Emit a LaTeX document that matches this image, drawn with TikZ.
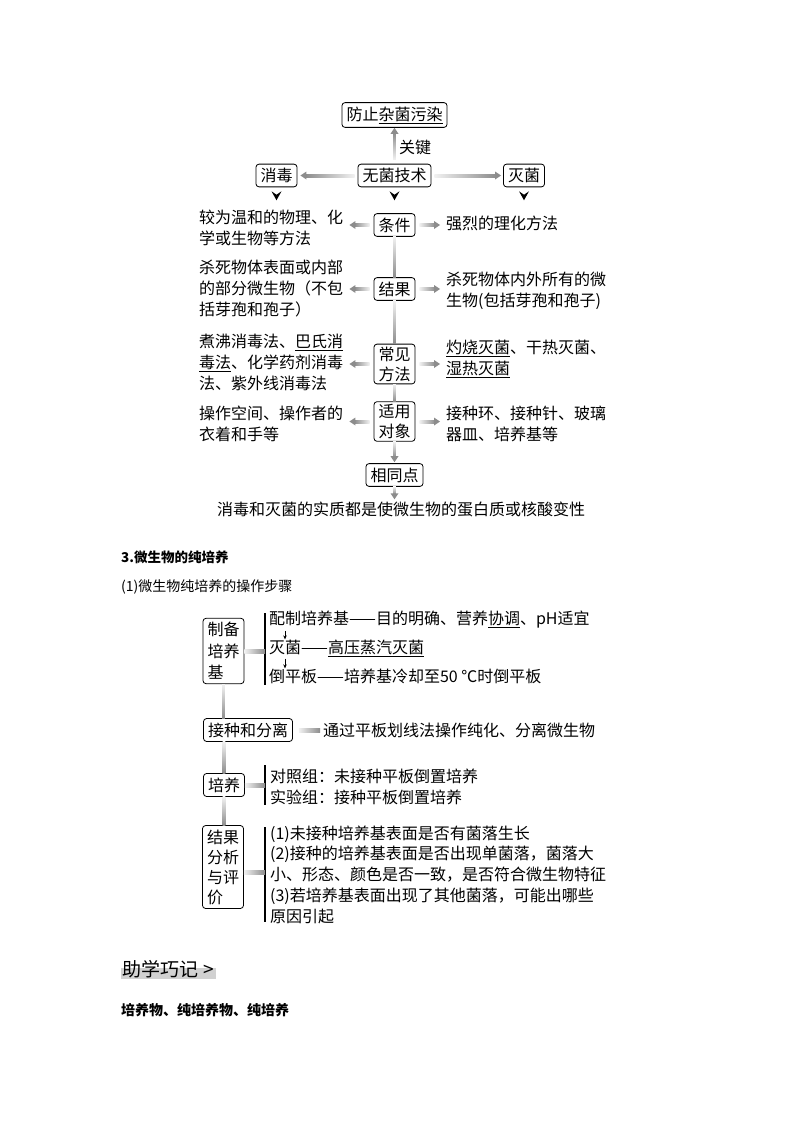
\documentclass[tikz,border=0pt]{standalone}
\usepackage{fontspec}
\setmainfont{Noto Sans CJK SC}
\usetikzlibrary{arrows.meta,calc}
\newcommand\fA{\fontsize{16}{21}\selectfont}
\newcommand\fB{\fontsize{16}{20.75}\selectfont}
\newcommand\fBox{\fontsize{16}{21.5}\selectfont}
\colorlet{gcol}{black!45}
\newcommand\arrL[2]{\shade[left color=gcol,right color=gcol!12] ($(#2)+(5,-1.5)$) rectangle ($(#1)+(0,1.5)$);\fill[gcol] (#2) -- ($(#2)+(6,-4)$) -- ($(#2)+(6,4)$) -- cycle;}
\newcommand\arrR[2]{\shade[left color=gcol!12,right color=gcol] ($(#1)+(0,-1.5)$) rectangle ($(#2)+(-5,1.5)$);\fill[gcol] (#2) -- ($(#2)+(-6,-4)$) -- ($(#2)+(-6,4)$) -- cycle;}
\newcommand\arrD[2]{\shade[top color=gcol!12,bottom color=gcol] ($(#1)+(-1.4,0)$) rectangle ($(#2)+(1.4,-5)$);\fill[gcol] (#2) -- ($(#2)+(-4,-6)$) -- ($(#2)+(4,-6)$) -- cycle;}
\newcommand\arrU[2]{\shade[top color=gcol,bottom color=gcol!12] ($(#2)+(-1.4,5)$) rectangle ($(#1)+(1.4,0)$);\fill[gcol] (#2) -- ($(#2)+(-4,6)$) -- ($(#2)+(4,6)$) -- cycle;}
\newcommand\lnD[3][1.4]{\shade[top color=gcol!12,bottom color=gcol] ($(#2)+(-#1,0)$) rectangle ($(#3)+(#1,0)$);}
\newcommand\lnR[3][2]{\shade[left color=gcol!12,right color=gcol] ($(#2)+(0,-#1)$) rectangle ($(#3)+(0,#1)$);}
\begin{document}
\begin{tikzpicture}[x=1pt,y=-1pt,
  box/.style={draw,line width=0.8pt,rounded corners=3pt,inner xsep=4.5pt,inner ysep=4pt,font=\fA,align=center},
  box2/.style={box,inner ysep=2.5pt,font=\fontsize{16}{20}\selectfont},
  lt/.style={inner xsep=6pt,inner ysep=0pt,font=\fA,align=left,anchor=west},
  pl/.style={inner sep=0pt,font=\fA,anchor=west},
  bline/.style={line width=1.1pt}]
\useasboundingbox (0,0) rectangle (800,1132);

% ---------- top section ----------
\node[box] (top) at (394.5,115) {防止\underline{杂菌污染}};
\node[box] (wj) at (394.5,175.5) {无菌技术};
\node[box] (xd) at (276.5,175.5) {消毒};
\node[box] (mj) at (524,175.5) {灭菌};
\node[font=\fA,inner sep=0pt] (gj) at (415,147) {关键};

\coordinate (c1) at ($(wj.north)+(0,-4)$);
\arrU{c1}{top.south}
\coordinate (c3) at ($(wj.west)+(-3,0)$);
\coordinate (c4) at ($(xd.east)+(3,0)$);
\arrL{c3}{c4}
\coordinate (c5) at ($(wj.east)+(3,0)$);
\coordinate (c6) at ($(mj.west)+(-2,0)$);
\arrR{c5}{c6}
\foreach \nn in {xd,wj,mj}
  \fill ($(\nn.south)+(-5,4)$) -- ($(\nn.south)+(0,13)$) -- ($(\nn.south)+(5,4)$) -- ($(\nn.south)+(0,7.5)$) -- cycle;

\node[box] (tj) at (394.5,225) {条件};
\node[lt] (tjL) at (193,227.5) {较为温和的物理、化\\学或生物等方法};
\node[lt] (tjR) at (440,223) {强烈的理化方法};
\node[box] (jg) at (394.5,289) {结果};
\node[lt] (jgL) at (193,289) {杀死物体表面或内部\\的部分微生物（不包\\括芽孢和孢子）};
\node[lt] (jgR) at (440,290.5) {杀死物体内外所有的微\\生物(包括芽孢和孢子)};
\node[box2] (cj) at (394.5,364) {常见\\方法};
\node[lt] (cjL) at (193,362) {煮沸消毒法、\underline{巴氏消}\\\underline{毒法}、化学药剂消毒\\法、紫外线消毒法};
\node[lt] (cjR) at (440,359) {\underline{灼烧灭菌}、干热灭菌、\\\underline{湿热灭菌}};
\node[box2] (sy) at (394.5,421.5) {适用\\对象};
\node[lt] (syL) at (193,424) {操作空间、操作者的\\衣着和手等};
\node[lt] (syR) at (440,424) {接种环、接种针、玻璃\\器皿、培养基等};
\node[box] (xt) at (394.5,475) {相同点};
\node[font=\fA,inner sep=0pt] (sum) at (401,509) {消毒和灭菌的实质都是使微生物的蛋白质或核酸变性};

\foreach \rr in {tj,jg,cj,sy}{
  \coordinate (\rr-a) at ($(\rr.west)+(-4,0)$);
  \coordinate (\rr-b) at (\rr.west -| \rr L.east);
  \arrL{\rr-a}{\rr-b}
  \coordinate (\rr-c) at ($(\rr.east)+(4,0)$);
  \coordinate (\rr-d) at (\rr.east -| \rr R.west);
  \arrR{\rr-c}{\rr-d}
}
\lnD{tj.south}{jg.north}
\lnD{jg.south}{cj.north}
\lnD{cj.south}{sy.north}
\coordinate (d1) at ($(xt.north)+(0,-1)$);
\arrD{sy.south}{d1}
\coordinate (d2) at ($(sum.north)+(-6.5,-2)$);
\coordinate (d3) at (xt.south);
\arrD{d3}{d2 -| d3}

% ---------- section 3 ----------
\node[pl,font=\fontsize{13.5}{16}\selectfont\bfseries] (h1) at (121,557) {3.微生物的纯培养};
\node[pl,font=\fontsize{14}{16}\selectfont] (h2) at (121,587) {(1)微生物纯培养的操作步骤};

\node[box,align=left,font=\fBox] (zb) at (223.5,651) {制备\\培养\\基};
\coordinate (b1t) at (265,613);
\coordinate (b1b) at (265,685);
\draw[bline] (b1t) -- (b1b);
\coordinate (b1c) at (zb.east -| b1t);
\lnR{zb.east}{b1c}
\node[pl] (p1) at (269,620) {配制培养基——目的明确、营养\underline{协调}、pH适宜};
\node[pl] (p2) at (269,648) {灭菌——\underline{高压蒸汽灭菌}};
\node[pl] (p3) at (269,676) {倒平板——培养基冷却至50 ℃时倒平板};
\draw[-{Stealth[length=4pt,width=3.5pt]},line width=0.6pt] ($(p1.south west)+(16,2)$) -- ($(p2.north west)+(16,0)$);
\draw[-{Stealth[length=4pt,width=3.5pt]},line width=0.6pt] ($(p2.south west)+(16,2)$) -- ($(p3.north west)+(16,0)$);

\node[box] (jz) at (248,730) {接种和分离};
\node[pl] (jzT) at (323,730) {通过平板划线法操作纯化、分离微生物};
\coordinate (e1) at ($(jz.east)+(6,0)$);
\coordinate (e2) at ($(jzT.west)+(-3,0)$);
\lnR{e1}{e2}
\coordinate (v1) at (zb.south |- jz.north);
\lnD{zb.south}{v1}

\node[box] (py) at (224,785) {培养};
\coordinate (v2) at (py.north |- jz.south);
\lnD{v2}{py.north}
\coordinate (b2t) at (265,765);
\coordinate (b2b) at (265,805);
\draw[bline] (b2t) -- (b2b);
\coordinate (b2c) at (py.east -| b2t);
\lnR{py.east}{b2c}
\node[pl] (q1) at (270,776) {对照组：未接种平板倒置培养};
\node[pl] (q2) at (270,797) {实验组：接种平板倒置培养};

\node[box,align=left,font=\fontsize{16}{20}\selectfont] (jf) at (223,867) {结果\\分析\\与评\\价};
\coordinate (v3) at (py.south |- jf.north);
\lnD{py.south}{v3}
\coordinate (b3t) at (265,827);
\coordinate (b3b) at (265,922);
\draw[bline] (b3t) -- (b3b);
\coordinate (b3c) at ($(jf.east -| b3t)+(0,5)$);
\coordinate (b3s) at ($(jf.east)+(0,5)$);
\lnR{b3s}{b3c}
\node[pl,align=left,font=\fB] (res) at (270,874.5) {(1)未接种培养基表面是否有菌落生长\\(2)接种的培养基表面是否出现单菌落，菌落大\\小、形态、颜色是否一致，是否符合微生物特征\\(3)若培养基表面出现了其他菌落，可能出哪些\\原因引起};

% ---------- bottom ----------
\fill[black!18] (121,968) rectangle (216,979);
\node[pl,font=\fontsize{19}{22}\selectfont] (zx) at (122,969) {助学巧记\hspace{0.3em}>};
\node[pl,font=\fontsize{14}{16}\selectfont\bfseries] (pw) at (121,1010) {培养物、纯培养物、纯培养};
\end{tikzpicture}
\end{document}
